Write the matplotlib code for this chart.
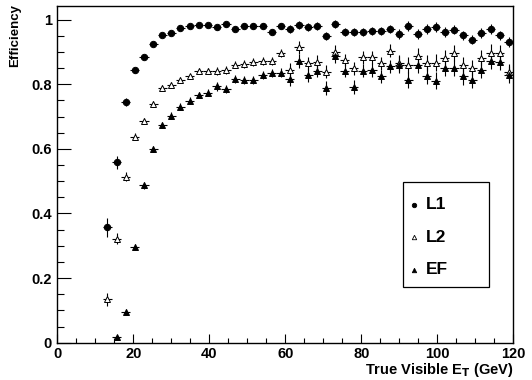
import numpy as np
import matplotlib
matplotlib.use("Agg")
import matplotlib.pyplot as plt
from matplotlib.ticker import MultipleLocator, FuncFormatter
from matplotlib.patches import Rectangle

# ── Trigger efficiency vs true visible ET (50 bins, 0-120 GeV) ────────────────

BIN_HALF_WIDTH = 1.2

et_centers = [13.2, 15.6, 18.0, 20.4, 22.8, 25.2, 27.6, 30.0, 32.4, 34.8,
              37.2, 39.6, 42.0, 44.4, 46.8, 49.2, 51.6, 54.0, 56.4, 58.8,
              61.2, 63.6, 66.0, 68.4, 70.8, 73.2, 75.6, 78.0, 80.4, 82.8,
              85.2, 87.6, 90.0, 92.4, 94.8, 97.2, 99.6, 102.0, 104.4, 106.8,
              109.2, 111.6, 114.0, 116.4, 118.8]

eff_l1 = [0.357, 0.558, 0.746, 0.843, 0.885, 0.926, 0.953, 0.959, 0.974, 0.980,
          0.983, 0.983, 0.976, 0.985, 0.972, 0.980, 0.980, 0.980, 0.963, 0.980,
          0.970, 0.983, 0.976, 0.981, 0.950, 0.987, 0.962, 0.962, 0.962, 0.964,
          0.964, 0.970, 0.956, 0.980, 0.956, 0.970, 0.977, 0.961, 0.969, 0.951,
          0.938, 0.959, 0.971, 0.951, 0.930]
err_l1 = [0.030, 0.020, 0.012, 0.008, 0.006, 0.006, 0.006, 0.006, 0.006, 0.006,
          0.006, 0.006, 0.008, 0.008, 0.008, 0.008, 0.008, 0.008, 0.008, 0.008,
          0.012, 0.012, 0.012, 0.012, 0.012, 0.012, 0.012, 0.012, 0.012, 0.012,
          0.012, 0.012, 0.015, 0.015, 0.015, 0.015, 0.015, 0.015, 0.015, 0.015,
          0.015, 0.015, 0.015, 0.015, 0.015]

eff_l2 = [0.135, 0.322, 0.514, 0.638, 0.687, 0.739, 0.788, 0.798, 0.812, 0.824,
          0.840, 0.840, 0.840, 0.843, 0.861, 0.862, 0.868, 0.871, 0.873, 0.896,
          0.845, 0.915, 0.865, 0.870, 0.839, 0.901, 0.875, 0.850, 0.884, 0.884,
          0.865, 0.903, 0.865, 0.860, 0.888, 0.865, 0.867, 0.881, 0.896, 0.860,
          0.850, 0.881, 0.898, 0.896, 0.839]
err_l2 = [0.020, 0.016, 0.013, 0.010, 0.009, 0.009, 0.009, 0.009, 0.009, 0.009,
          0.009, 0.009, 0.012, 0.012, 0.012, 0.012, 0.012, 0.012, 0.012, 0.012,
          0.020, 0.020, 0.020, 0.020, 0.020, 0.020, 0.020, 0.020, 0.020, 0.020,
          0.020, 0.020, 0.025, 0.025, 0.025, 0.025, 0.025, 0.025, 0.025, 0.025,
          0.025, 0.025, 0.025, 0.025, 0.025]

# EF has no entries in the first filled bin
et_centers_ef = et_centers[1:]
eff_ef = [0.017, 0.095, 0.296, 0.487, 0.600, 0.674, 0.703, 0.731, 0.749,
          0.767, 0.774, 0.793, 0.785, 0.816, 0.813, 0.813, 0.829, 0.834, 0.836,
          0.817, 0.872, 0.829, 0.842, 0.788, 0.886, 0.842, 0.791, 0.842, 0.844,
          0.824, 0.855, 0.860, 0.813, 0.860, 0.826, 0.811, 0.850, 0.850, 0.824,
          0.813, 0.844, 0.873, 0.870, 0.829]
err_ef = [0.005, 0.008, 0.010, 0.011, 0.010, 0.010, 0.010, 0.010, 0.010,
          0.010, 0.010, 0.013, 0.013, 0.013, 0.013, 0.013, 0.013, 0.013, 0.013,
          0.021, 0.021, 0.021, 0.021, 0.021, 0.021, 0.021, 0.021, 0.021, 0.021,
          0.021, 0.021, 0.026, 0.026, 0.026, 0.026, 0.026, 0.026, 0.026, 0.026,
          0.026, 0.026, 0.026, 0.026, 0.026]

series = [
    ("L1", et_centers, eff_l1, err_l1, dict(marker="o", mfc="black", ms=4.6)),
    ("L2", et_centers, eff_l2, err_l2, dict(marker="^", mfc="white", ms=5.0)),
    ("EF", et_centers_ef, eff_ef, err_ef, dict(marker="^", mfc="black", ms=5.0)),
]

# ── Plot ───────────────────────────────────────────────────────────────────────

plt.rcParams["font.family"] = ["Liberation Sans", "DejaVu Sans"]
plt.rcParams["font.weight"] = "bold"

fig = plt.figure(figsize=(5.32, 3.80), dpi=100)
ax = fig.add_axes([0.1077, 0.0982, 0.8572, 0.8868])

for label, x, y, yerr, style in series:
    ax.errorbar(x, y, yerr=yerr, xerr=BIN_HALF_WIDTH, fmt="none",
                ecolor="black", elinewidth=0.8, capsize=0, zorder=2)
    ax.plot(x, y, linestyle="none", color="black", mec="black", mew=0.7,
            zorder=3, **style)

ax.set_xlim(0, 120)
ax.set_ylim(0, 1.043)

ax.xaxis.set_major_locator(MultipleLocator(20))
ax.xaxis.set_minor_locator(MultipleLocator(5))
ax.yaxis.set_major_locator(MultipleLocator(0.2))
ax.yaxis.set_minor_locator(MultipleLocator(0.05))
ax.yaxis.set_major_formatter(FuncFormatter(lambda v, _: f"{v:g}"))

ax.tick_params(axis="both", which="both", direction="in", top=False, right=False,
               labelsize=10.5, width=0.8, color="black")
ax.tick_params(axis="x", which="major", length=6.5, pad=3)
ax.tick_params(axis="x", which="minor", length=3.3)
ax.tick_params(axis="y", which="major", length=10, pad=4)
ax.tick_params(axis="y", which="minor", length=5)
for lbl in ax.get_xticklabels() + ax.get_yticklabels():
    lbl.set_fontweight("bold")

for side in ax.spines.values():
    side.set_linewidth(1.0)

ax.set_xlabel("True Visible E$_\\mathbf{T}$ (GeV)", fontsize=10.5, fontweight="bold",
              loc="right", labelpad=0)
ax.set_ylabel("Efficiency", fontsize=9.5, fontweight="bold", loc="top", labelpad=7)
ax.yaxis.label.set_y(1.005)

# Legend box drawn in axes coordinates
ax.add_patch(Rectangle((0.757, 0.166), 0.190, 0.310, transform=ax.transAxes,
                       facecolor="white", edgecolor="black", linewidth=0.9, zorder=5))
legend_rows = [0.409, 0.313, 0.216]
for (label, _, _, _, style), ypos in zip(series, legend_rows):
    ax.plot([0.783], [ypos], transform=ax.transAxes, linestyle="none",
            color="black", mec="black", mew=0.6, marker=style["marker"],
            mfc=style["mfc"], ms=3.2, zorder=6, clip_on=False)
    ax.text(0.808, ypos, label, transform=ax.transAxes, fontsize=12.5,
            fontweight="bold", va="center", ha="left", zorder=6)

fig.savefig("out.png", dpi=100)
